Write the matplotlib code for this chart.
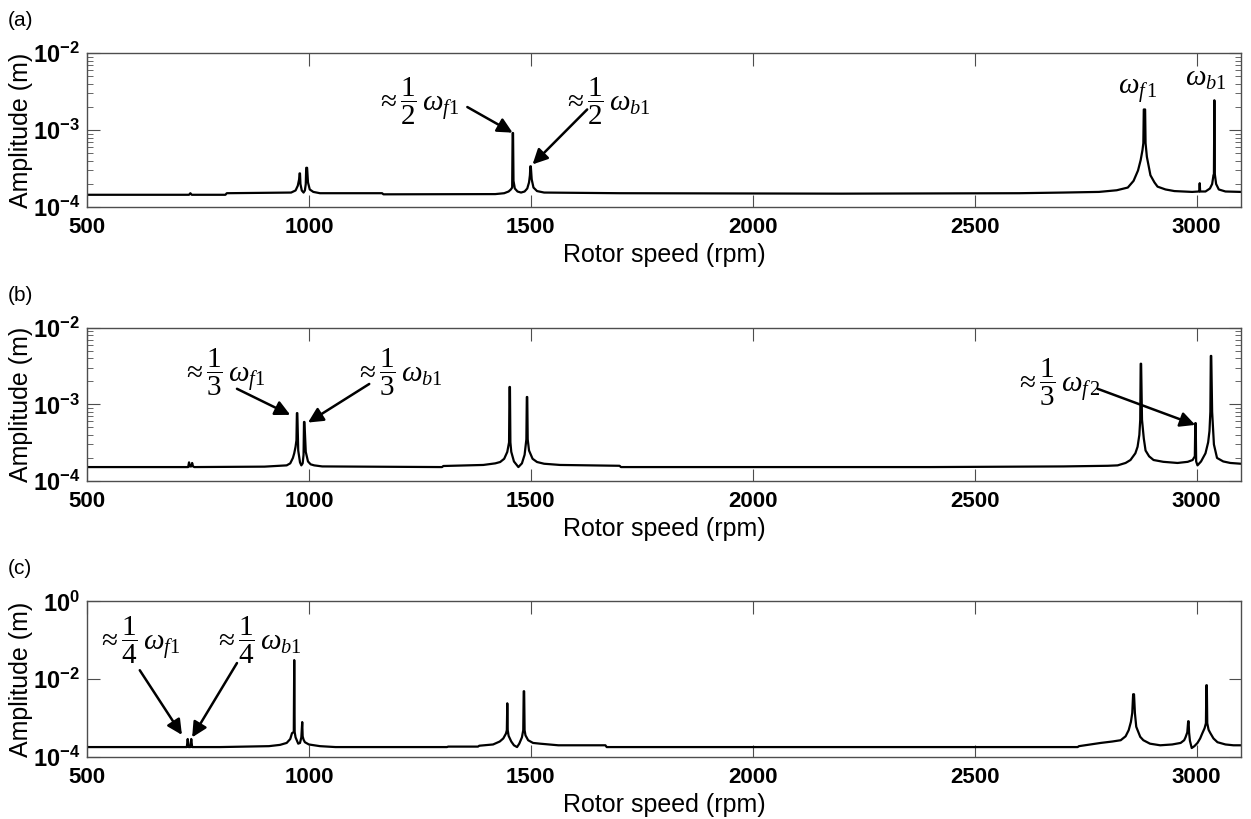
import math
import matplotlib
matplotlib.use("Agg")
import matplotlib.pyplot as plt
from matplotlib.ticker import FixedLocator, FuncFormatter, LogLocator, NullLocator, NullFormatter

plt.rcParams['font.family'] = ['Liberation Sans', 'DejaVu Sans']
plt.rcParams['mathtext.fontset'] = 'custom'
plt.rcParams['mathtext.rm'] = 'Liberation Serif'
plt.rcParams['mathtext.it'] = 'Liberation Serif:italic'
plt.rcParams['mathtext.bf'] = 'Liberation Sans:bold'
plt.rcParams['mathtext.sf'] = 'Liberation Sans'

# ---- data (rpm, amplitude in m) ----
rpm_a = [500, 730, 733, 736, 739, 812, 815, 960, 970, 975, 978, 979, 980, 981, 984, 988, 991, 993, 994, 996,
         998, 1002, 1010, 1025, 1165, 1168, 1420, 1440, 1450, 1455, 1458, 1459, 1460, 1461, 1464, 1470, 1478,
         1486, 1492, 1496, 1498, 1499, 1500, 1502, 1506, 1514, 1530, 1700, 2200, 2600, 2700, 2780, 2820, 2845,
         2858, 2868, 2874, 2878, 2880, 2881, 2884, 2885, 2888, 2896, 2905, 2912, 2930, 2950, 2990, 3005, 3006,
         3007, 3008, 3020, 3030, 3035, 3038, 3039, 3040, 3041, 3044, 3050, 3065, 3100]
amp_a = [1.45e-4, 1.45e-4, 1.52e-4, 1.45e-4, 1.45e-4, 1.45e-4, 1.52e-4, 1.55e-4, 1.65e-4, 1.9e-4, 2.3e-4, 2.75e-4,
         2.75e-4, 2.0e-4, 1.65e-4, 1.55e-4, 1.65e-4, 2.0e-4, 3.25e-4, 3.25e-4,
         2.1e-4, 1.7e-4, 1.58e-4, 1.52e-4, 1.52e-4, 1.47e-4, 1.48e-4, 1.52e-4, 1.6e-4, 1.7e-4, 1.8e-4, 9.2e-4,
         9.2e-4, 2.2e-4, 1.75e-4, 1.6e-4, 1.55e-4,
         1.6e-4, 1.75e-4, 2.1e-4, 2.6e-4, 3.4e-4, 3.4e-4, 2.3e-4, 1.8e-4, 1.62e-4, 1.55e-4, 1.52e-4, 1.5e-4,
         1.52e-4, 1.55e-4, 1.58e-4, 1.66e-4, 1.8e-4,
         2.2e-4, 3.0e-4, 4.1e-4, 5.5e-4, 6.8e-4, 1.86e-3, 1.86e-3, 6.8e-4, 4.5e-4, 2.6e-4, 2.1e-4, 1.85e-4,
         1.7e-4, 1.62e-4, 1.58e-4, 1.6e-4, 1.6e-4,
         2.05e-4, 1.6e-4, 1.6e-4, 1.75e-4, 2.0e-4, 2.6e-4, 2.6e-4, 2.45e-3, 2.7e-4, 2.0e-4, 1.7e-4, 1.6e-4,
         1.58e-4]

rpm_b = [500, 728, 730, 732, 735, 737, 739, 742, 900, 950, 958, 964, 967, 970, 972, 973, 974, 976, 980, 983,
         986, 988, 989, 990, 993, 998, 1004, 1012, 1030, 1300, 1303, 1393, 1420, 1431, 1440, 1447, 1451, 1452,
         1453, 1454, 1456, 1462, 1472, 1480, 1486, 1490, 1491, 1492, 1493, 1496, 1504, 1514, 1530, 1566, 1700,
         1703, 2400, 2700, 2800, 2822, 2840, 2851, 2862, 2867, 2871, 2873, 2874, 2875, 2877, 2881, 2885, 2893,
         2903, 2925, 2957, 2980, 2991, 2996, 2997, 2998, 2999, 3002, 3010, 3020, 3026, 3029, 3031, 3032, 3033,
         3035, 3039, 3046, 3060, 3076, 3100]
amp_b = [1.52e-4, 1.52e-4, 1.75e-4, 1.55e-4, 1.55e-4, 1.72e-4, 1.55e-4, 1.52e-4, 1.54e-4, 1.6e-4, 1.7e-4, 2.0e-4,
         2.3e-4, 2.8e-4, 3.4e-4, 7.7e-4, 7.7e-4, 2.5e-4, 1.75e-4, 1.6e-4,
         1.7e-4, 2.2e-4, 5.9e-4, 5.9e-4, 2.4e-4, 1.8e-4, 1.65e-4, 1.6e-4, 1.55e-4, 1.52e-4, 1.57e-4, 1.62e-4,
         1.7e-4, 1.77e-4, 1.95e-4, 2.4e-4, 3.2e-4, 1.69e-3,
         1.69e-3, 3.2e-4, 2.4e-4, 1.8e-4, 1.52e-4, 1.7e-4, 2.2e-4, 3.5e-4, 1.25e-3, 1.25e-3, 3.5e-4, 2.5e-4,
         1.95e-4, 1.77e-4, 1.68e-4, 1.62e-4, 1.58e-4,
         1.52e-4, 1.52e-4, 1.55e-4, 1.58e-4, 1.6e-4, 1.72e-4, 1.88e-4, 2.3e-4, 2.8e-4, 4.0e-4, 6.3e-4, 3.4e-3,
         3.4e-3, 6.3e-4, 3.6e-4, 2.5e-4, 2.1e-4,
         1.88e-4, 1.78e-4, 1.72e-4, 1.78e-4, 1.88e-4, 2.1e-4, 5.7e-4, 5.7e-4, 1.8e-4, 1.6e-4, 1.8e-4, 2.3e-4,
         3.2e-4, 4.5e-4, 8.0e-4, 4.3e-3, 4.3e-3,
         8.0e-4, 3.0e-4, 2.0e-4, 1.8e-4, 1.72e-4, 1.68e-4]

rpm_c = [500, 725, 727, 729, 731, 733, 735, 737, 739, 800, 910, 935, 950, 958, 962, 966, 967, 968, 970, 976,
         980, 983, 985, 986, 988, 991, 1000, 1025, 1060, 1311, 1314, 1381, 1384, 1415, 1430, 1438, 1444, 1446,
         1447, 1448, 1450, 1456, 1462, 1469, 1474, 1480, 1483, 1484, 1485, 1486, 1488, 1494, 1505, 1521, 1562,
         1668, 1671, 2400, 2732, 2735, 2784, 2810, 2829, 2840, 2847, 2852, 2855, 2857, 2859, 2861, 2864, 2867,
         2873, 2880, 2895, 2918, 2945, 2964, 2972, 2975, 2979, 2981, 2982, 2983, 2985, 2989, 2995, 3002, 3008,
         3013, 3018, 3021, 3022, 3023, 3024, 3027, 3031, 3038, 3047, 3065, 3083, 3100]
amp_c = [1.8e-4, 1.8e-4, 2.9e-4, 1.8e-4, 1.8e-4, 1.8e-4, 2.9e-4, 1.8e-4, 1.8e-4, 1.8e-4, 1.9e-4, 2.05e-4,
         2.3e-4, 2.9e-4, 4.1e-4, 4.4e-4, 3.1e-2, 4.4e-4, 3.2e-4, 2.2e-4,
         2.3e-4, 3.2e-4, 7.9e-4, 3.4e-4, 2.8e-4, 2.4e-4, 2.1e-4, 1.9e-4, 1.8e-4, 1.8e-4, 1.85e-4, 1.85e-4,
         1.95e-4, 2.1e-4, 2.5e-4, 3.0e-4, 4.0e-4, 4.9e-4,
         2.4e-3, 4.9e-4, 3.5e-4, 2.5e-4, 2.0e-4, 1.8e-4, 2.2e-4, 3.2e-4, 4.9e-4, 4.9e-3, 4.9e-3, 4.9e-4, 3.6e-4,
         2.7e-4, 2.3e-4, 2.2e-4, 2.0e-4,
         2.0e-4, 1.8e-4, 1.8e-4, 1.8e-4, 1.9e-4, 2.3e-4, 2.5e-4, 2.7e-4, 3.4e-4, 4.9e-4, 8.0e-4, 1.35e-3, 4.1e-3,
         4.1e-3, 1.35e-3, 6.0e-4, 4.9e-4,
         3.3e-4, 2.7e-4, 2.2e-4, 2.0e-4, 2.1e-4, 2.3e-4, 2.7e-4, 3.2e-4, 4.3e-4, 8.3e-4, 8.3e-4, 4.3e-4, 2.6e-4,
         1.7e-4, 1.9e-4, 2.3e-4, 3.0e-4,
         4.1e-4, 5.5e-4, 7.4e-4, 7.0e-3, 7.0e-3, 7.4e-4, 5.0e-4, 4.1e-4, 3.0e-4, 2.4e-4, 2.1e-4, 2.0e-4, 2.0e-4]

x_ticks = [500, 1000, 1500, 2000, 2500, 3000]

# annotations: (text, text xy, arrow start, arrow tip) in data coords
ann_a = [(r'$\approx\dfrac{1}{2}\,\omega_{f1}$', (1244, 2.4e-3), (1357, 2.0e-3), (1459, 9.3e-4)),
         (r'$\approx\dfrac{1}{2}\,\omega_{b1}$', (1672, 2.4e-3), (1627, 1.86e-3), (1504, 3.6e-4))]
ann_b = [(r'$\approx\dfrac{1}{3}\,\omega_{f1}$', (807, 2.6e-3), (838, 1.6e-3), (958, 7.3e-4)),
         (r'$\approx\dfrac{1}{3}\,\omega_{b1}$', (1203, 2.6e-3), (1136, 1.85e-3), (998, 5.8e-4)),
         (r'$\approx\dfrac{1}{3}\,\omega_{f\,2}$', (2687, 1.94e-3), (2777, 1.6e-3), (2997, 5.4e-4))]
ann_c = [(r'$\approx\dfrac{1}{4}\,\omega_{f1}$', (617, 0.1), (619, 1.7e-2), (714, 3.7e-4)),
         (r'$\approx\dfrac{1}{4}\,\omega_{b1}$', (885, 0.1), (838, 2.6e-2), (737, 3.2e-4))]
labels_a = [(r'$\omega_{f\,1}$', (2867, 3.3e-3)), (r'$\omega_{b1}$', (3020, 4.7e-3))]


def decade_label(v, pos):
    return r'$\mathbf{10^{%d}}$' % round(math.log10(v))


fig = plt.figure(figsize=(12.51, 8.19), dpi=100)
boxes = [[0.0695, 0.747, 0.9225, 0.188],
         [0.0695, 0.4127, 0.9225, 0.187],
         [0.0695, 0.0757, 0.9225, 0.190]]
panels = [(rpm_a, amp_a, (1e-4, 1e-2), [1e-4, 1e-3, 1e-2], True, ann_a, '(a)'),
          (rpm_b, amp_b, (1e-4, 1e-2), [1e-4, 1e-3, 1e-2], True, ann_b, '(b)'),
          (rpm_c, amp_c, (1e-4, 1e0), [1e-4, 1e-2, 1e0], False, ann_c, '(c)')]

for box, (xs, ys, ylim, yt, minor, anns, tag) in zip(boxes, panels):
    ax = fig.add_axes(box)
    ax.plot(xs, ys, color='black', lw=1.6)
    ax.set_yscale('log')
    ax.set_xlim(500, 3100)
    ax.set_ylim(*ylim)
    ax.xaxis.set_major_locator(FixedLocator(x_ticks))
    ax.yaxis.set_major_locator(FixedLocator(yt))
    ax.yaxis.set_major_formatter(FuncFormatter(decade_label))
    if minor:
        ax.yaxis.set_minor_locator(LogLocator(base=10, subs=range(2, 10)))
    else:
        ax.yaxis.set_minor_locator(NullLocator())
    ax.yaxis.set_minor_formatter(NullFormatter())
    ax.xaxis.set_minor_locator(NullLocator())
    for lab in ax.get_xticklabels():
        lab.set_fontweight('bold')
    ax.tick_params(which='both', direction='in', top=True, right=True, color='0.3')
    ax.tick_params(which='major', length=9, pad=6)
    ax.tick_params(axis='x', which='major', labelsize=16, pad=7)
    ax.tick_params(axis='y', which='major', labelsize=17, pad=5)
    ax.tick_params(which='minor', length=4)
    for sp in ax.spines.values():
        sp.set_color('0.3')
        sp.set_linewidth(1.0)
    ax.set_xlabel('Rotor speed (rpm)', fontsize=18, labelpad=4)
    ax.set_ylabel('Amplitude (m)', fontsize=18)
    ax.yaxis.set_label_coords(-0.047, 0.5)
    for txt, txy, start, tip in anns:
        ax.text(txy[0], txy[1], txt, fontsize=21, ha='center', va='center')
        ax.annotate('', xy=tip, xytext=start,
                    arrowprops=dict(arrowstyle='-|>,head_length=0.9,head_width=0.45',
                                    color='black', lw=1.8, shrinkA=0, shrinkB=0))
    if tag == '(a)':
        for txt, txy in labels_a:
            ax.text(txy[0], txy[1], txt, fontsize=21, ha='center', va='center')
    bb = ax.get_position()
    fig.text(0.006, bb.y1 + 0.04, tag, fontsize=15, ha='left', va='center')

fig.savefig('out.png', dpi=100)
